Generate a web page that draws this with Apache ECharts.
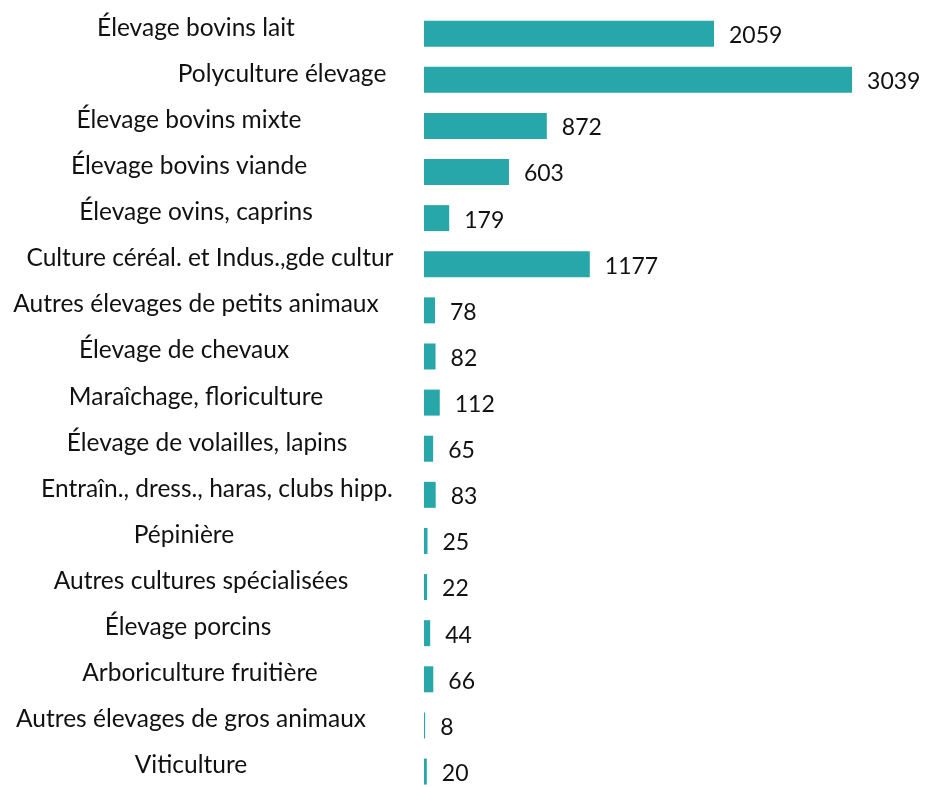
<!DOCTYPE html>
<html>
<head>
<meta charset="utf-8">
<script src="https://cdn.jsdelivr.net/npm/echarts@6/dist/echarts.min.js"></script>
<style>
  html, body { margin: 0; padding: 0; background: #ffffff; }
  #chart { width: 925px; height: 787px; }
</style>
</head>
<body>
<div id="chart"></div>
<script>
// Number of farms by type of farming (OTEX)
const categories = [
  'Élevage bovins lait',
  'Polyculture élevage',
  'Élevage bovins mixte',
  'Élevage bovins viande',
  'Élevage ovins, caprins',
  'Culture céréal. et Indus.,gde cultur',
  'Autres élevages de petits animaux',
  'Élevage de chevaux',
  'Maraîchage, floriculture',
  'Élevage de volailles, lapins',
  'Entraîn., dress., haras, clubs hipp.',
  'Pépinière',
  'Autres cultures spécialisées',
  'Élevage porcins',
  'Arboriculture fruitière',
  'Autres élevages de gros animaux',
  'Viticulture'
];
const counts = [2059, 3039, 872, 603, 179, 1177, 78, 82, 112, 65, 83, 25, 22, 44, 66, 8, 20];

// Horizontal nudges (px) of the individual category labels around their common centre
const labelNudge = [0, 86, -7, -7, 0, 14, 0, -12, 0, 11, 21, -12, 5, -8, 4, -5, -5];

const BAR_COLOR = '#27A7A9';
const FONT = 'Lato, "Open Sans", sans-serif';
const CAT_FONT_SIZE = 24.5;
// A short line box anchored at its bottom lifts each category label slightly above its bar
const CAT_LINE_HEIGHT = 12;

const chart = echarts.init(document.getElementById('chart'), null, { renderer: 'canvas' });

const yData = categories.map((name, i) => {
  const s = labelNudge[i];
  return {
    value: name,
    textStyle: {
      align: 'center',
      verticalAlign: 'bottom',
      lineHeight: CAT_LINE_HEIGHT,
      fontFamily: FONT,
      fontSize: CAT_FONT_SIZE,
      color: '#111111',
      padding: [0, s < 0 ? -2 * s : 0, 0, s > 0 ? 2 * s : 0]
    }
  };
});

chart.setOption({
  animation: false,
  backgroundColor: '#ffffff',
  grid: {
    left: 424,
    top: 10.6,
    width: 493,
    height: 784,
    containLabel: false,
    outerBoundsMode: 'none'
  },
  xAxis: {
    type: 'value',
    min: 0,
    max: 3500,
    show: false
  },
  yAxis: {
    type: 'category',
    inverse: true,
    data: yData,
    axisLine: { show: false },
    axisTick: { show: false },
    splitLine: { show: false },
    axisLabel: {
      margin: 228,
      align: 'center',
      verticalAlign: 'bottom',
      lineHeight: CAT_LINE_HEIGHT,
      fontFamily: FONT,
      fontSize: CAT_FONT_SIZE,
      color: '#111111',
      interval: 0,
      hideOverlap: false
    }
  },
  series: [{
    type: 'bar',
    data: counts,
    barWidth: 26,
    itemStyle: { color: BAR_COLOR },
    label: {
      show: true,
      position: 'right',
      distance: 15,
      offset: [0, 2],
      fontFamily: FONT,
      fontSize: 23,
      color: '#111111'
    }
  }]
});
</script>
</body>
</html>
